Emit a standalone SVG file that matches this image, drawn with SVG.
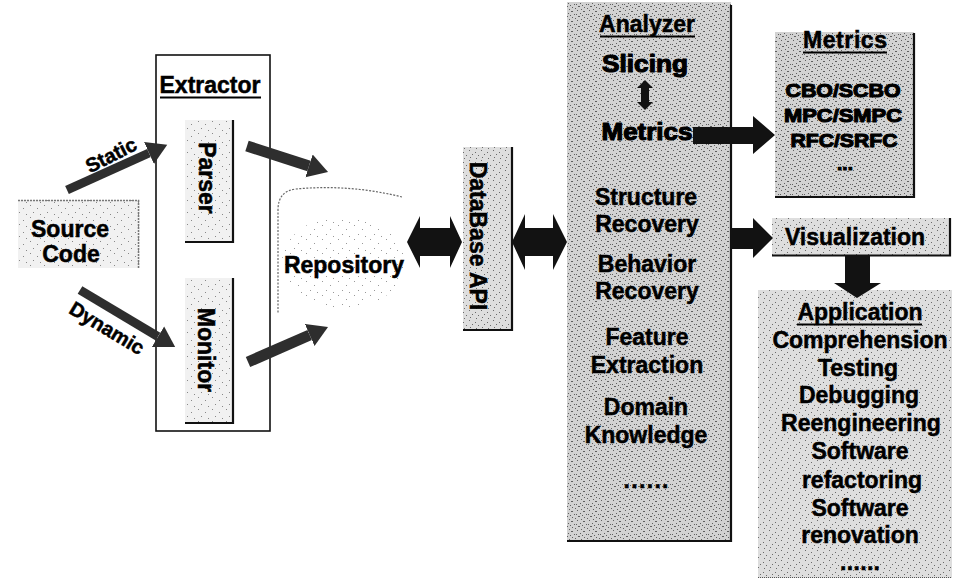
<svg xmlns="http://www.w3.org/2000/svg" width="956" height="585" viewBox="0 0 956 585">
  <style>
    text { font-family: "Liberation Sans", Arial, sans-serif; font-weight: bold; fill: #000; font-size: 23px; text-anchor: middle; }
    .heavy { stroke: #000; stroke-width: 1.1; stroke-linejoin: round; }
    .semi { stroke: #000; stroke-width: 0.5; }
    .edge { fill: none; stroke: #111; stroke-width: 2.2; }
    .uline { stroke: #000; stroke-width: 1.8; }
    .fat { fill: #121212; }
    .thin { fill: none; stroke: #2e2e2e; }
  </style>
  <defs>
    <!-- dithered grey textures for the shaded boxes -->
    <pattern id="grainD" width="12" height="10" patternUnits="userSpaceOnUse">
      <rect width="12" height="10" fill="#d2d2d2"/>
      <path d="M1 0.5h1 M7 1.5h2 M4 3.5h1 M10 4.5h1 M2 6.5h2 M8 7.5h1 M5 9.5h1 M11 8.5h1 M0 4.5h1 M6 5.5h1" stroke="#5e5e5e" stroke-width="1"/>
    </pattern>
    <pattern id="grainM" width="12" height="10" patternUnits="userSpaceOnUse">
      <rect width="12" height="10" fill="#dedede"/>
      <path d="M1 0.5h1 M7 2.5h1 M4 4.5h1 M10 5.5h1 M2 7.5h1 M8 8.5h1" stroke="#6a6a6a" stroke-width="1"/>
    </pattern>
    <pattern id="grainL" width="14" height="12" patternUnits="userSpaceOnUse">
      <rect width="14" height="12" fill="#f1f1f1"/>
      <path d="M2 1.5h1 M9 4.5h1 M5 8.5h1 M12 10.5h1" stroke="#888" stroke-width="1"/>
    </pattern>
    <pattern id="grainS" width="16" height="14" patternUnits="userSpaceOnUse">
      <path d="M2 1.5h1 M10 5.5h1 M6 10.5h1 M13 12.5h1" stroke="#999" stroke-width="1"/>
    </pattern>
    <marker id="head" markerUnits="userSpaceOnUse" markerWidth="22" markerHeight="26" viewBox="0 -13 22 26" refX="0" refY="0" orient="auto">
      <path d="M0,-12 L20,0 L0,12 z" fill="#2e2e2e"/>
    </marker>
  </defs>

  <rect width="956" height="585" fill="#fff"/>

  <!-- Source Code -->
  <g id="source-code">
    <rect x="18" y="200" width="122" height="68" fill="url(#grainL)"/>
    <path d="M18,200.5 H138.5 V268" fill="none" stroke="#777" stroke-width="1.5" stroke-dasharray="2 1"/>
    <text x="70" y="237" class="semi">Source</text>
    <text x="71" y="262" class="semi">Code</text>
  </g>

  <!-- Extractor with Parser and Monitor -->
  <g id="extractor">
    <rect x="156" y="55" width="114" height="376" fill="#fff" stroke="#111" stroke-width="1.6"/>
    <text x="210" y="93" class="semi">Extractor</text>
    <line x1="160" y1="97.5" x2="261" y2="97.5" class="uline"/>
  </g>
  <g id="parser">
    <rect x="185" y="120" width="48" height="122" fill="url(#grainL)"/>
    <path d="M233,120 V242 H185" class="edge"/>
    <text transform="translate(199,178) rotate(90)" class="semi">Parser</text>
  </g>
  <g id="monitor">
    <rect x="185" y="278" width="48" height="145" fill="url(#grainL)"/>
    <path d="M233,278 V423 H185" class="edge"/>
    <text transform="translate(198,350) rotate(90)" class="semi">Monitor</text>
  </g>

  <!-- Repository -->
  <g id="repository">
    <ellipse cx="344" cy="262" rx="62" ry="46" fill="url(#grainS)"/>
    <path d="M402,197 Q350,184 296,189 Q278,191 278,210 V313" fill="none" stroke="#666" stroke-width="1.2" stroke-dasharray="2 1.5"/>
    <text x="344" y="273" class="semi">Repository</text>
  </g>

  <!-- DataBase API -->
  <g id="database-api">
    <rect x="463" y="147" width="49" height="183" fill="url(#grainM)"/>
    <path d="M512,147 V330 H463" class="edge"/>
    <text transform="translate(470,236) rotate(90)" class="semi">DataBase API</text>
  </g>

  <!-- Analyzer -->
  <g id="analyzer">
    <rect x="567" y="2" width="164" height="539" fill="url(#grainD)"/>
    <path d="M731,5 V541 H567" class="edge" stroke-width="2.6"/>
    <text x="647" y="32" class="semi">Analyzer</text>
    <line x1="600" y1="36.5" x2="695" y2="36.5" class="uline"/>
    <text x="645" y="72" class="heavy" textLength="86" lengthAdjust="spacingAndGlyphs">Slicing</text>
    <polygon class="fat" points="645,80 653,88 649,88 649,102 653,102 645,110 637,102 641,102 641,88 637,88"/>
    <text x="647" y="140" class="heavy" textLength="91" lengthAdjust="spacingAndGlyphs">Metrics</text>
    <text x="646" y="205" class="semi">Structure</text>
    <text x="647" y="232" class="semi">Recovery</text>
    <text x="647" y="272" class="semi">Behavior</text>
    <text x="647" y="299" class="semi">Recovery</text>
    <text x="647" y="345" class="semi">Feature</text>
    <text x="647" y="373" class="semi">Extraction</text>
    <text x="646" y="415" class="semi">Domain</text>
    <text x="646" y="443" class="semi">Knowledge</text>
    <text x="646" y="488" class="semi" textLength="45">......</text>
  </g>

  <!-- Metrics -->
  <g id="metrics">
    <rect x="775" y="32" width="139" height="165" fill="url(#grainD)"/>
    <path d="M914,33 V197 H775" class="edge"/>
    <text x="845" y="48" class="semi" textLength="84">Metrics</text>
    <line x1="803" y1="52.5" x2="887" y2="52.5" class="uline"/>
    <text x="843" y="97" style="font-size:19px" class="heavy" textLength="115" lengthAdjust="spacingAndGlyphs">CBO/SCBO</text>
    <text x="843" y="122" style="font-size:19px" class="heavy" textLength="118" lengthAdjust="spacingAndGlyphs">MPC/SMPC</text>
    <text x="844" y="147" style="font-size:19px" class="heavy" textLength="107" lengthAdjust="spacingAndGlyphs">RFC/SRFC</text>
    <text x="845" y="170" style="font-size:19px" class="heavy">...</text>
  </g>

  <!-- Visualization -->
  <g id="visualization">
    <rect x="772" y="218" width="178" height="38" fill="url(#grainM)"/>
    <path d="M950,218 V255.5 H772" class="edge" stroke-width="1.8"/>
    <text x="855" y="245" class="semi">Visualization</text>
  </g>

  <!-- Application -->
  <g id="application">
    <rect x="758" y="290" width="194" height="288" fill="url(#grainM)"/>
    <line x1="758" y1="577.5" x2="952" y2="577.5" stroke="#555" stroke-width="1" stroke-dasharray="1 1"/>
    <text x="860" y="320" class="semi">Application</text>
    <line x1="797" y1="324.5" x2="922" y2="324.5" class="uline"/>
    <text x="860" y="348" class="semi">Comprehension</text>
    <text x="858" y="376" class="semi">Testing</text>
    <text x="859" y="403" class="semi">Debugging</text>
    <text x="861" y="431" class="semi">Reengineering</text>
    <text x="860" y="459" class="semi">Software</text>
    <text x="862" y="488" class="semi">refactoring</text>
    <text x="860" y="516" class="semi">Software</text>
    <text x="860" y="543" class="semi">renovation</text>
    <text x="860" y="570" class="semi" textLength="40">......</text>
  </g>

  <!-- Connectors -->
  <g id="connectors">
    <line class="thin" x1="67" y1="190" x2="149" y2="153" stroke-width="9" marker-end="url(#head)"/>
    <line class="thin" x1="80" y1="290" x2="158" y2="336.7" stroke-width="9" marker-end="url(#head)"/>
    <line class="thin" x1="247" y1="146" x2="309" y2="165.9" stroke-width="11" marker-end="url(#head)"/>
    <line class="thin" x1="248" y1="362" x2="309.7" y2="335" stroke-width="11" marker-end="url(#head)"/>
    <polygon class="fat" points="407,242 420,216 420,228 450,228 450,216 462,242 450,268 450,256 420,256 420,268"/>
    <polygon class="fat" points="512,242 525,214 525,228 553,228 553,214 567,242 553,270 553,256 525,256 525,270"/>
    <polygon class="fat" points="693,127 753,127 753,116 775,135 753,154 753,144 693,144"/>
    <polygon class="fat" points="731,228 753,228 753,218 773,238 753,258 753,249 731,249"/>
    <polygon class="fat" points="845,256 870,256 870,283 881,283 857,298 834,283 845,283"/>
  </g>

  <!-- rotated flow labels -->
  <g id="flow-labels">
    <text transform="translate(111,155) rotate(-27)" y="7" style="font-size:20px" class="semi">Static</text>
    <text transform="translate(107,328) rotate(31)" y="7" style="font-size:20px" class="semi">Dynamic</text>
  </g>
</svg>
